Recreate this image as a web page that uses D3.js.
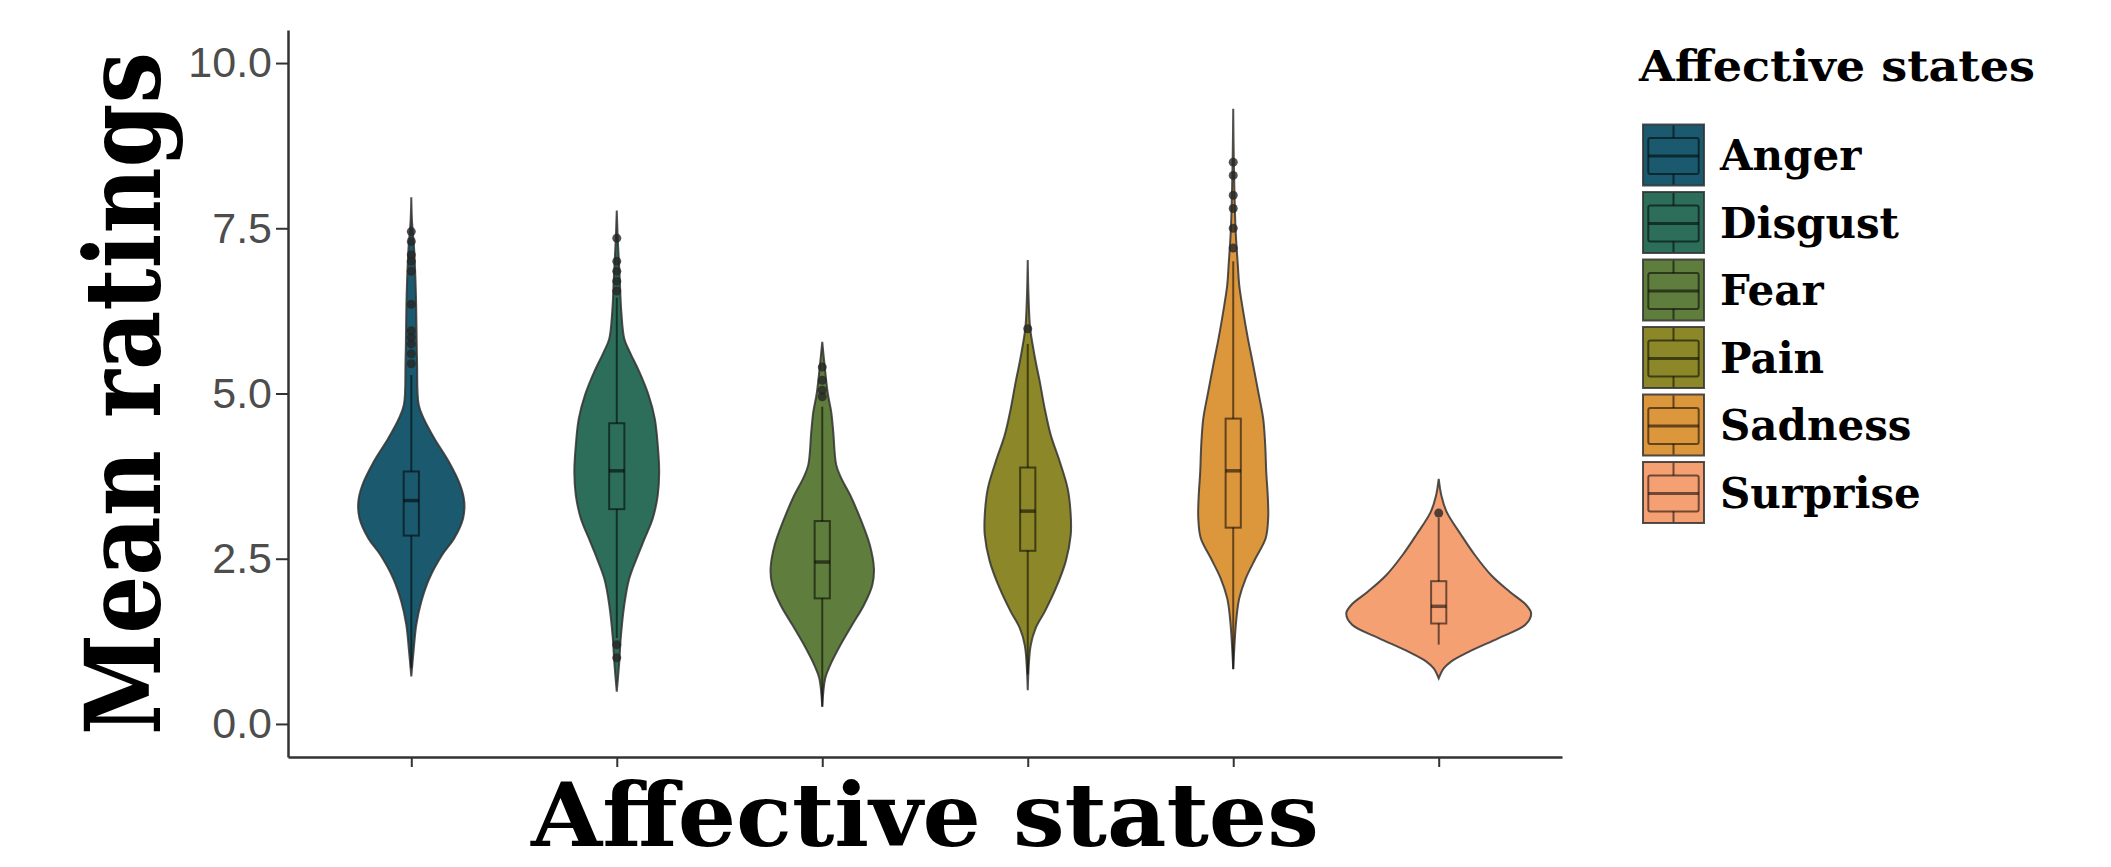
<!DOCTYPE html>
<html>
<head>
<meta charset="utf-8">
<script src="https://cdn.jsdelivr.net/npm/d3@7"></script>
<style>
  html, body { margin: 0; padding: 0; background: #ffffff; }
  svg { display: block; }
</style>
</head>
<body>
<svg id="chart" width="2111" height="867"></svg>
<script>
// Categories and fill colours
const categories = ["Anger", "Disgust", "Fear", "Pain", "Sadness", "Surprise"];
const fillColors = ["#1b5a6e", "#2d6e5a", "#5f7d3c", "#8c8728", "#dc963c", "#f5a073"];
const yTicks = [0, 2.5, 5, 7.5, 10];

// Violin outlines: [rating, relative half-width] from bottom tip to top tip
const angerDensity = [[0.72,0],[1.14,0.027],[1.5,0.054],[1.85,0.108],[2.2,0.195],[2.56,0.335],[2.81,0.465],[3.11,0.56],[3.36,0.573],[3.61,0.53],[3.97,0.405],[4.32,0.25],[4.62,0.135],[4.83,0.08],[5.5,0.062],[6.5,0.05],[7.2,0.03],[7.6,0.008],[7.97,0]];
const disgustDensity = [[0.49,0],[0.94,0.027],[1.3,0.043],[1.8,0.081],[2.2,0.135],[2.51,0.216],[2.81,0.303],[3.11,0.389],[3.46,0.443],[3.82,0.459],[4.22,0.443],[4.62,0.411],[4.98,0.343],[5.33,0.243],[5.63,0.14],[5.83,0.081],[6.24,0.049],[6.8,0.03],[7.3,0.012],[7.77,0]];
const fearDensity = [[0.26,0],[0.69,0.032],[0.89,0.086],[1.19,0.195],[1.5,0.324],[1.8,0.451],[2.1,0.541],[2.35,0.559],[2.71,0.514],[3.11,0.411],[3.46,0.303],[3.72,0.205],[3.92,0.151],[4.42,0.119],[4.72,0.097],[5.0,0.06],[5.43,0.025],[5.78,0]];
const painDensity = [[0.51,0],[1.19,0.032],[1.45,0.086],[1.7,0.184],[2.05,0.303],[2.46,0.411],[2.86,0.465],[3.16,0.465],[3.56,0.432],[3.97,0.346],[4.37,0.249],[4.77,0.184],[5.18,0.13],[5.48,0.086],[5.73,0.054],[6.0,0.025],[6.5,0.008],[7.02,0]];
const sadnessDensity = [[0.83,0],[1.56,0.032],[1.9,0.065],[2.2,0.135],[2.51,0.243],[2.81,0.351],[3.11,0.378],[3.41,0.375],[3.82,0.357],[4.22,0.346],[4.62,0.324],[5.03,0.27],[5.43,0.216],[5.83,0.159],[6.24,0.108],[6.64,0.065],[6.94,0.05],[7.5,0.025],[8.56,0.006],[9.31,0]];
const surpriseDensity = [[0.69,0],[0.84,0.054],[0.94,0.13],[1.09,0.324],[1.3,0.649],[1.5,0.937],[1.67,1.0],[1.8,0.946],[2.0,0.768],[2.25,0.568],[2.56,0.389],[2.86,0.243],[3.21,0.086],[3.45,0.03],[3.71,0]];
const densities = [angerDensity, disgustDensity, fearDensity, painDensity, sadnessDensity, surpriseDensity];

// Boxplot summaries per category
const whiskerLow  = [0.85, 1.3, 0.26, 0.75, 0.83, 1.2];
const quartile1   = [2.85, 3.25, 1.9, 2.62, 2.97, 1.52];
const medians     = [3.38, 3.83, 2.45, 3.22, 3.83, 1.78];
const quartile3   = [3.82, 4.55, 3.07, 3.88, 4.62, 2.16];
const whiskerHigh = [5.28, 6.45, 4.8, 5.75, 7.0, 3.12];
const outliers = [
  [5.45, 5.6, 5.75, 5.85, 5.95, 6.35, 6.85, 7.0, 7.1, 7.3, 7.45],
  [1.2, 1.0, 6.55, 6.7, 6.85, 7.0, 7.35],
  [4.95, 5.05, 5.2, 5.4],
  [5.98],
  [7.2, 7.5, 7.8, 8.0, 8.3, 8.5],
  [3.19]
];

// Layout
const panel = { left: 288, right: 1562, top: 30, bottom: 757 };
const svg = d3.select("#chart");

const x = d3.scalePoint().domain(categories).range([panel.left, panel.right]).padding(0.6);
const y = d3.scaleLinear().domain([-0.5, 10.5]).range([panel.bottom, panel.top]);
const halfWidth = d3.scaleLinear().domain([0, 1]).range([0, 0.45 * x.step()]);
const boxHalf = 0.037 * x.step();
const color = d3.scaleOrdinal().domain(categories).range(fillColors);

const outlineColor = "#333333";

// Violins
const plot = svg.append("g").attr("class", "violins");
categories.forEach((cat, i) => {
  const cx = x(cat);
  const area = d3.area()
    .y(d => y(d[0]))
    .x0(d => cx - halfWidth(d[1]))
    .x1(d => cx + halfWidth(d[1]))
    .curve(d3.curveCatmullRom.alpha(0.5));
  const g = plot.append("g");
  g.append("path")
    .datum(densities[i])
    .attr("d", area)
    .attr("fill", color(cat))
    .attr("stroke", outlineColor)
    .attr("stroke-opacity", 0.85)
    .attr("stroke-width", 2);

  // Boxplot on top of the violin
  const box = g.append("g")
    .attr("stroke", "#000")
    .attr("stroke-opacity", 0.55)
    .attr("fill", "none");
  box.append("line")
    .attr("x1", cx).attr("x2", cx)
    .attr("y1", y(whiskerLow[i])).attr("y2", y(quartile1[i]))
    .attr("stroke-width", 2);
  box.append("line")
    .attr("x1", cx).attr("x2", cx)
    .attr("y1", y(quartile3[i])).attr("y2", y(whiskerHigh[i]))
    .attr("stroke-width", 2);
  box.append("rect")
    .attr("x", cx - boxHalf)
    .attr("width", 2 * boxHalf)
    .attr("y", y(quartile3[i]))
    .attr("height", y(quartile1[i]) - y(quartile3[i]))
    .attr("stroke-width", 2);
  box.append("line")
    .attr("x1", cx - boxHalf).attr("x2", cx + boxHalf)
    .attr("y1", y(medians[i])).attr("y2", y(medians[i]))
    .attr("stroke-width", 3.5);

  g.selectAll("circle.out")
    .data(outliers[i])
    .join("circle")
    .attr("class", "out")
    .attr("cx", cx)
    .attr("cy", d => y(d))
    .attr("r", 4.5)
    .attr("fill", "#262626")
    .attr("fill-opacity", 0.8);
});

// Axes
const yAxis = svg.append("g")
  .attr("transform", `translate(${panel.left},0)`)
  .call(d3.axisLeft(y).tickValues(yTicks).tickFormat(d3.format(".1f")).tickSize(12).tickSizeOuter(0).tickPadding(4));
yAxis.select(".domain").attr("stroke", "#333").attr("stroke-width", 2.5);
yAxis.selectAll(".tick line").attr("stroke", "#333").attr("stroke-width", 2);
yAxis.selectAll(".tick text")
  .attr("fill", "#4d4d4d")
  .style("font-family", "'Liberation Sans', Arial, sans-serif")
  .style("font-size", "43px");

const xAxis = svg.append("g")
  .attr("transform", `translate(0,${panel.bottom})`)
  .call(d3.axisBottom(x).tickSize(10).tickSizeOuter(0).tickFormat(""));
xAxis.select(".domain").attr("stroke", "#333").attr("stroke-width", 2.5);
xAxis.selectAll(".tick line").attr("stroke", "#333").attr("stroke-width", 2);

// Axis titles: set in bold serif, squeezed horizontally to the wanted length
const serif = "'DejaVu Serif', 'Liberation Serif', serif";
function squeezedTitle(text, size, cx, cy, rotate, targetLength) {
  const t = svg.append("text")
    .attr("text-anchor", "middle")
    .style("font-family", serif)
    .style("font-weight", "bold")
    .style("font-size", size + "px")
    .attr("fill", "#000")
    .text(text);
  const natural = t.node().getComputedTextLength();
  const sx = targetLength / natural;
  t.attr("transform", `translate(${cx},${cy}) rotate(${rotate}) scale(${sx},1)`);
  return t;
}
squeezedTitle("Affective states", 87, (panel.left + panel.right) / 2, 846, 0, 788);
squeezedTitle("Mean ratings", 104, 160, (panel.top + panel.bottom) / 2, -90, 683);

// Legend
const legend = svg.append("g").attr("class", "legend");
legend.append("text")
  .attr("x", 1639)
  .attr("y", 81)
  .attr("textLength", 396)
  .attr("lengthAdjust", "spacingAndGlyphs")
  .style("font-family", serif)
  .style("font-weight", "bold")
  .style("font-size", "43px")
  .attr("fill", "#000")
  .text("Affective states");

const keySize = 63, keyPitch = 67.5, keyX = 1642, keyY0 = 123.5;
const keys = legend.selectAll("g.key")
  .data(categories)
  .join("g")
  .attr("class", "key")
  .attr("transform", (d, i) => `translate(${keyX},${keyY0 + i * keyPitch})`);

keys.append("rect")
  .attr("x", 1).attr("y", 1)
  .attr("width", keySize - 2).attr("height", keySize - 2)
  .attr("fill", d => color(d))
  .attr("stroke", outlineColor)
  .attr("stroke-opacity", 0.85)
  .attr("stroke-width", 2);

const kb = keys.append("g").attr("stroke", "#000").attr("stroke-opacity", 0.55).attr("fill", "none");
kb.append("line").attr("x1", keySize / 2).attr("x2", keySize / 2).attr("y1", 2).attr("y2", keySize * 0.23).attr("stroke-width", 2);
kb.append("line").attr("x1", keySize / 2).attr("x2", keySize / 2).attr("y1", keySize * 0.8).attr("y2", keySize - 2).attr("stroke-width", 2);
kb.append("rect")
  .attr("x", keySize * 0.1).attr("width", keySize * 0.8)
  .attr("y", keySize * 0.23).attr("height", keySize * 0.57)
  .attr("rx", 2)
  .attr("stroke-width", 2);
kb.append("line").attr("x1", keySize * 0.1).attr("x2", keySize * 0.9)
  .attr("y1", keySize * 0.515).attr("y2", keySize * 0.515).attr("stroke-width", 3);

keys.append("text")
  .attr("x", 1720 - keyX)
  .attr("y", keySize / 2 + 15)
  .style("font-family", serif)
  .style("font-weight", "bold")
  .style("font-size", "42px")
  .attr("fill", "#000")
  .text(d => d);
</script>
</body>
</html>
